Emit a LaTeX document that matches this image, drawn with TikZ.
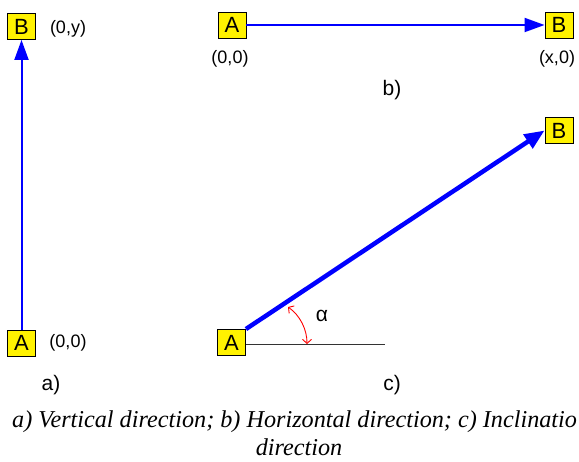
\documentclass[tikz,border=0pt]{standalone}
\usepackage{fontspec}
\setmainfont{Liberation Sans}
\newfontfamily\capfont{Liberation Serif}
\usetikzlibrary{arrows.meta}
\begin{document}
\begin{tikzpicture}[x=1pt,y=-1pt,
  pt/.style={draw=black,line width=0.9pt,fill=yellow,minimum width=28pt,minimum height=26pt,inner sep=0pt,font=\fontsize{22}{24}\selectfont},
  coord/.style={font=\fontsize{18}{20}\selectfont,inner sep=0pt},
  sub/.style={font=\fontsize{21}{24}\selectfont,inner sep=0pt},
  vec/.style={draw=blue,line width=2pt,-{Triangle[length=20pt,width=14pt]}},
  bigvec/.style={draw=blue,line width=4.5pt,-{Triangle[length=20pt,width=16pt]}},
  ang/.style={draw=red,line width=0.9pt,{Straight Barb[length=4pt,width=9pt]}-{Straight Barb[length=4pt,width=9pt]}},
  captext/.style={font=\capfont\itshape\fontsize{24.2}{28}\selectfont,inner sep=0pt}]
\useasboundingbox (0,0) rectangle (579,462);
% a)
\node[pt] (a1) at (21.5,343) {A};
\node[pt] (b1) at (21.5,26.5) {B};
\draw[vec] (a1) -- (b1);
\node[coord] (la1) at (68,343) {(0,0)};
\node[coord] (lb1) at (68,29) {(0,y)};
\node[sub] (sa) at (51,385) {a)};
% b)
\node[pt] (a2) at (232,25) {A};
\node[pt] (b2) at (559,25) {B};
\draw[vec] (a2) -- (b2);
\node[coord] (la2) at (230,59) {(0,0)};
\node[coord] (lb2) at (557,59) {(x,0)};
\node[sub] (sb) at (392,90) {b)};
% c)
\node[pt] (a3) at (231.5,342.5) {A};
\node[pt] (b3) at (559,130.5) {B};
\coordinate (hl) at (385,344.5);
\draw[draw=black!80,line width=1pt] (a3.east|-hl) -- (hl);
\draw[bigvec] (a3.north east) -- (b3.west);
\draw[ang] (288,307) .. controls (300,315.4) and (307,329.3) .. (307,344);
\node[sub] (al) at (322,316) {α};
\node[sub] (sc) at (392,385) {c)};
% caption
\node[captext,anchor=base west] (c1) at (12,428) {a) Vertical direction; b) Horizontal direction; c) Inclinatio};
\node[captext,anchor=base] (c2) at (299,456) {direction};
\end{tikzpicture}
\end{document}
